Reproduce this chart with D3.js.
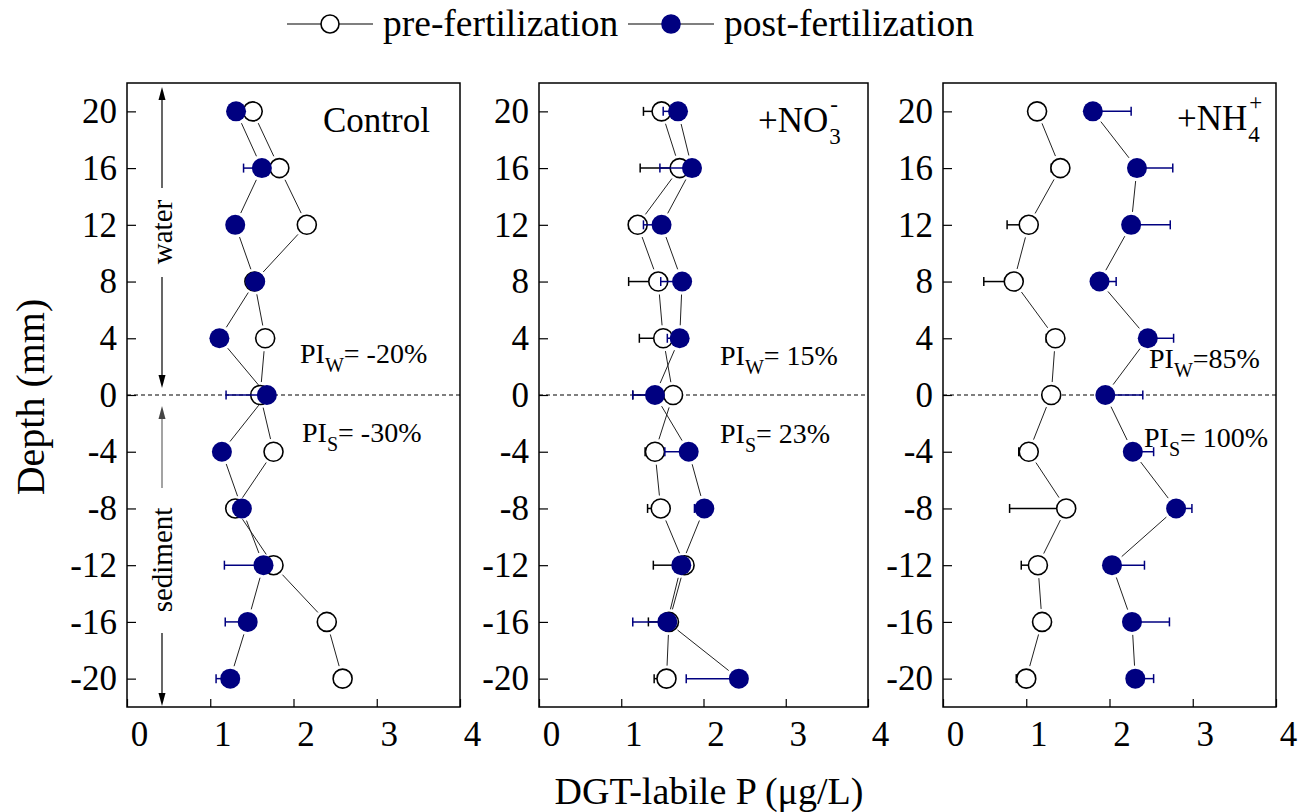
<!DOCTYPE html>
<html><head><meta charset="utf-8">
<script src="https://cdn.jsdelivr.net/npm/d3@7"></script>
<style>
body{margin:0;background:#fff}
svg{display:block}
text{font-family:"Liberation Serif","Times New Roman",serif;fill:#000}
</style>
</head><body>
<svg id="c" width="1307" height="812"></svg>
<script>
// ---------- data ----------
const depths = [20, 16, 12, 8, 4, 0, -4, -8, -12, -16, -20];
const yTicks = [20, 16, 12, 8, 4, 0, -4, -8, -12, -16, -20];
const xTicks = [0, 1, 2, 3, 4];
const seriesNames = ["pre-fertilization", "post-fertilization"];
const panelNames = ["Control", "+NO3-", "+NH4+"];

const preControl     = [1.51, 1.83, 2.16, 1.53, 1.66, 1.60, 1.76, 1.30, 1.76, 2.40, 2.59];
const preControlErr  = [0, 0, 0, 0, 0, 0, 0, 0.10, 0, 0, 0];
const postControl    = [1.31, 1.62, 1.30, 1.54, 1.11, 1.68, 1.14, 1.38, 1.64, 1.45, 1.24];
const postControlErr = [0, 0.22, 0, 0, 0, 0.49, 0, 0, 0.47, 0.27, 0.17];

const preNO3     = [1.49, 1.71, 1.20, 1.45, 1.51, 1.63, 1.41, 1.48, 1.77, 1.58, 1.55];
const preNO3Err  = [0.22, 0.48, 0.11, 0.36, 0.29, 0.49, 0.12, 0.16, 0.38, 0.25, 0.15];
const postNO3    = [1.69, 1.86, 1.49, 1.74, 1.71, 1.41, 1.82, 2.01, 1.73, 1.56, 2.43];
const postNO3Err = [0.18, 0.39, 0.22, 0.26, 0.15, 0.27, 0.29, 0.12, 0, 0.42, 0.64];

const preNH4     = [1.13, 1.41, 1.03, 0.85, 1.35, 1.30, 1.03, 1.48, 1.14, 1.19, 1.00];
const preNH4Err  = [0, 0.11, 0.26, 0.36, 0.11, 0.06, 0.12, 0.68, 0.20, 0.10, 0.12];
const postNH4    = [1.80, 2.33, 2.26, 1.88, 2.46, 1.95, 2.28, 2.80, 2.03, 2.27, 2.31];
const postNH4Err = [0.46, 0.43, 0.47, 0.20, 0.31, 0.45, 0.25, 0.19, 0.39, 0.45, 0.22];

const piWater    = ["-20%", "15%", "85%"];
const piSediment = ["-30%", "23%", "100%"];

// ---------- layout ----------
const NAVY = "#000080";
const TOP = 83, BOTTOM = 707;
const lefts = [127, 539, 943], rights = [460, 868, 1276];
const R = 10;
const svg = d3.select("#c");
const y = d3.scaleLinear().domain([-22, 22]).range([BOTTOM, TOP]);
const fmt = d => String(d);

const panels = [
  {name: panelNames[0], pre: preControl, preErr: preControlErr, post: postControl, postErr: postControlErr, preDir: -1, postDir: -1,
   title: {dx: 196, y: 132}, pw: {dx: 173, y: 363, sep: " "}, ps: {dx: 175, y: 442, sep: " "}},
  {name: panelNames[1], pre: preNO3, preErr: preNO3Err, post: postNO3, postErr: postNO3Err, preDir: -1, postDir: -1,
   title: {dx: 219, y: 132}, pw: {dx: 181, y: 365, sep: " "}, ps: {dx: 181, y: 443, sep: " "}},
  {name: panelNames[2], pre: preNH4, preErr: preNH4Err, post: postNH4, postErr: postNH4Err, preDir: -1, postDir: 1,
   title: {dx: 234, y: 130}, pw: {dx: 206, y: 368, sep: ""}, ps: {dx: 201, y: 447, sep: " "}}
];

function segs(g, xs, vals, color) {
  const gap = R + 3;
  for (let i = 0; i < vals.length - 1; i++) {
    const x1 = xs(vals[i]), y1 = y(depths[i]), x2 = xs(vals[i+1]), y2 = y(depths[i+1]);
    const dx = x2 - x1, dy = y2 - y1, L = Math.hypot(dx, dy);
    if (L <= 2 * gap) continue;
    const ux = dx / L, uy = dy / L;
    g.append("line").attr("x1", x1 + ux*gap).attr("y1", y1 + uy*gap)
      .attr("x2", x2 - ux*gap).attr("y2", y2 - uy*gap)
      .attr("stroke", color).attr("stroke-width", 1);
  }
}
function errs(g, xs, vals, err, dir, color) {
  vals.forEach((v, i) => {
    if (!err[i]) return;
    const x0 = xs(v), x1 = xs(v + dir * err[i]), yy = y(depths[i]);
    g.append("line").attr("x1", x0).attr("x2", x1).attr("y1", yy).attr("y2", yy)
      .attr("stroke", color).attr("stroke-width", 1.5);
    g.append("line").attr("x1", x1).attr("x2", x1).attr("y1", yy - 4.5).attr("y2", yy + 4.5)
      .attr("stroke", color).attr("stroke-width", 1.5);
  });
}

panels.forEach((p, k) => {
  const x = d3.scaleLinear().domain([0, 4]).range([lefts[k], rights[k]]);
  const g = svg.append("g");

  g.append("line").attr("x1", lefts[k]).attr("x2", rights[k]).attr("y1", y(0)).attr("y2", y(0))
    .attr("stroke", "#000").attr("stroke-width", 1.2).attr("stroke-dasharray", "4,3");

  const ya = g.append("g").attr("transform", `translate(${lefts[k]},0)`)
    .call(d3.axisLeft(y).tickValues(yTicks).tickSize(-9).tickPadding(10).tickFormat(fmt));
  ya.select(".domain").remove();
  ya.selectAll("text").attr("font-size", 35).attr("font-family", "Liberation Serif");
  ya.selectAll("line").attr("stroke-width", 1.2);

  const xa = g.append("g").attr("transform", `translate(0,${BOTTOM})`)
    .call(d3.axisBottom(x).tickValues(xTicks).tickSize(-8).tickPadding(14).tickFormat(fmt));
  xa.select(".domain").remove();
  xa.selectAll("text").attr("font-size", 35).attr("font-family", "Liberation Serif").attr("dx", 12);
  xa.selectAll("line").attr("stroke-width", 1.2);

  g.append("rect").attr("x", lefts[k]).attr("y", TOP).attr("width", rights[k] - lefts[k]).attr("height", BOTTOM - TOP)
    .attr("fill", "none").attr("stroke", "#000").attr("stroke-width", 1.5);

  segs(g, x, p.pre, "#222");
  segs(g, x, p.post, "#222");

  errs(g, x, p.pre, p.preErr, p.preDir, "#000");
  g.selectAll(null).data(p.pre).enter().append("circle")
    .attr("cx", d => x(d)).attr("cy", (d, i) => y(depths[i])).attr("r", R - 0.5)
    .attr("fill", "#fff").attr("stroke", "#000").attr("stroke-width", 1.6);
  errs(g, x, p.post, p.postErr, p.postDir, NAVY);
  g.selectAll(null).data(p.post).enter().append("circle")
    .attr("cx", d => x(d)).attr("cy", (d, i) => y(depths[i])).attr("r", R)
    .attr("fill", NAVY);

  const L = lefts[k];
  if (k === 0) {
    g.append("text").attr("x", L + p.title.dx).attr("y", p.title.y).attr("font-size", 35).text(p.name);
  } else {
    const base = p.name.slice(0, 3), sub = p.name.slice(3, 4), sup = p.name.slice(4);
    const t = g.append("text").attr("x", L + p.title.dx).attr("y", p.title.y).attr("font-size", 35).text(base);
    const w = t.node().getComputedTextLength();
    g.append("text").attr("x", L + p.title.dx + w + 1).attr("y", p.title.y + 12).attr("font-size", 23).text(sub);
    g.append("text").attr("x", L + p.title.dx + w + 2).attr("y", p.title.y - 20).attr("font-size", 23).text(sup);
  }
  [[p.pw, "W", piWater[k]], [p.ps, "S", piSediment[k]]].forEach(([pos, s, val]) => {
    const t = g.append("text").attr("x", L + pos.dx).attr("y", pos.y).attr("font-size", 28);
    t.append("tspan").text("PI");
    t.append("tspan").attr("dy", 9).attr("font-size", 20).text(s);
    t.append("tspan").attr("dy", -9).text("=" + pos.sep + val);
  });
});

(function () {
  const ax = 162;
  const g = svg.append("g");
  function arrow(xp, yTip, dir, color) {
    g.append("path").attr("d", `M${xp},${yTip} L${xp-3.5},${yTip - dir*13} L${xp+3.5},${yTip - dir*13} Z`).attr("fill", color);
  }
  g.append("line").attr("x1", ax).attr("x2", ax).attr("y1", 95).attr("y2", 188).attr("stroke", "#000").attr("stroke-width", 1.2);
  g.append("line").attr("x1", ax).attr("x2", ax).attr("y1", 277).attr("y2", 380).attr("stroke", "#000").attr("stroke-width", 1.2);
  arrow(ax, 87, -1, "#000"); arrow(ax, 388, 1, "#000");
  g.append("text").attr("transform", `translate(${ax + 10},232) rotate(-90)`).attr("text-anchor", "middle")
    .attr("font-size", 29).text("water");
  g.append("line").attr("x1", ax).attr("x2", ax).attr("y1", 414).attr("y2", 488).attr("stroke", "#666").attr("stroke-width", 1.2);
  g.append("line").attr("x1", ax).attr("x2", ax).attr("y1", 633).attr("y2", 698).attr("stroke", "#000").attr("stroke-width", 1.2);
  arrow(ax, 406, -1, "#444"); arrow(ax, 706, 1, "#000");
  g.append("text").attr("transform", `translate(${ax + 10},560) rotate(-90)`).attr("text-anchor", "middle")
    .attr("font-size", 29).text("sediment");
})();

svg.append("text").attr("transform", "translate(44,397) rotate(-90)").attr("text-anchor", "middle")
  .attr("font-size", 40).text("Depth (mm)");
svg.append("text").attr("x", 709).attr("y", 804).attr("text-anchor", "middle")
  .attr("font-size", 38).text("DGT-labile P (\u03bcg/L)");

const lg = svg.append("g");
const legendItems = [{x: 287, fill: "#fff", stroke: "#000"}, {x: 628, fill: NAVY, stroke: NAVY}];
legendItems.forEach((it, i) => {
  lg.append("line").attr("x1", it.x).attr("x2", it.x + 86).attr("y1", 24).attr("y2", 24).attr("stroke", "#000").attr("stroke-width", 1.2);
  lg.append("circle").attr("cx", it.x + 43).attr("cy", 24).attr("r", 9)
    .attr("fill", it.fill).attr("stroke", it.stroke).attr("stroke-width", 1.6);
  lg.append("text").attr("x", it.x + 96).attr("y", 36).attr("font-size", 37.5).text(seriesNames[i]);
});
</script>
</body></html>
